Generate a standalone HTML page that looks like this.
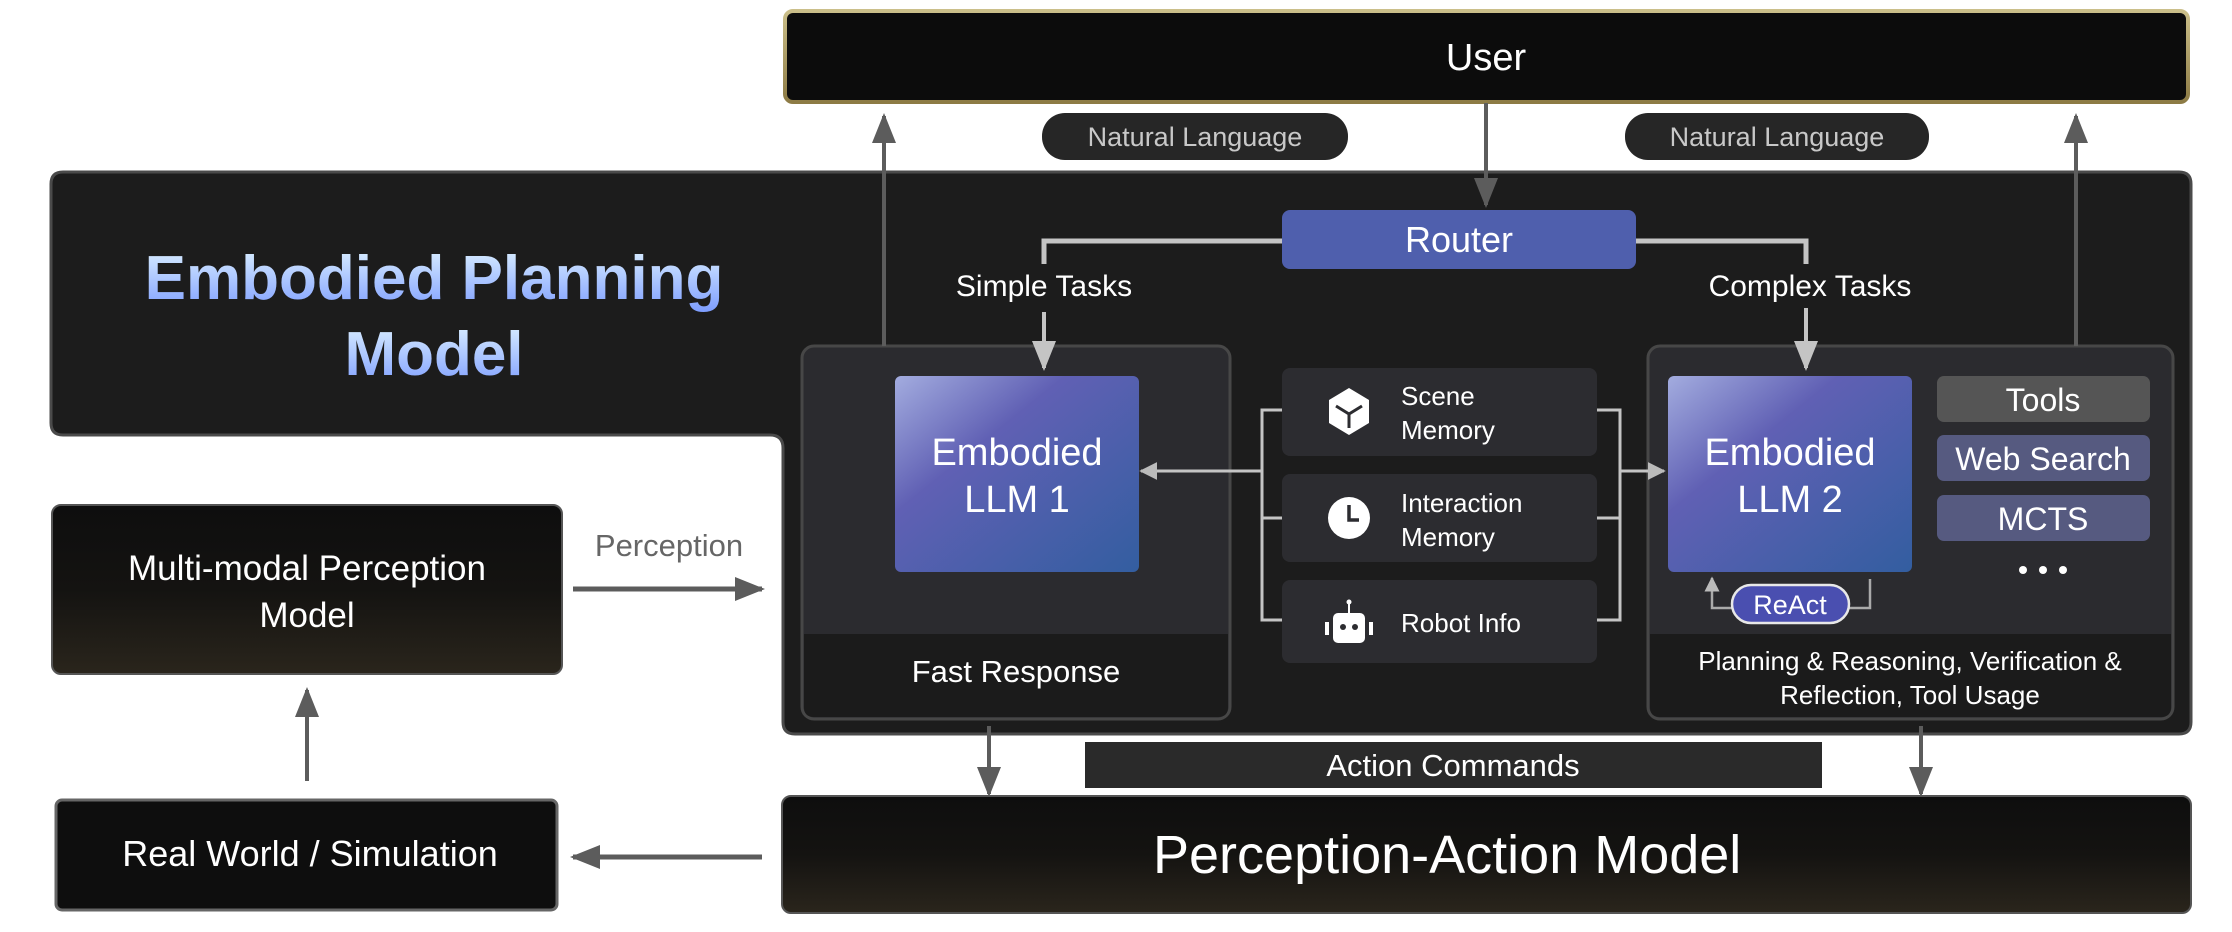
<!DOCTYPE html>
<html><head><meta charset="utf-8"><style>
html,body{margin:0;padding:0;background:#fff;}
svg{display:block;}
text{font-family:"Liberation Sans",sans-serif;}
</style></head><body>
<svg width="2232" height="932" viewBox="0 0 2232 932" xmlns="http://www.w3.org/2000/svg">
<defs>
<linearGradient id="gold" x1="0" y1="0" x2="0" y2="1"><stop offset="0" stop-color="#cbbf8a"/><stop offset="1" stop-color="#8d7b45"/></linearGradient>
<linearGradient id="dark" x1="0" y1="0" x2="0" y2="1"><stop offset="0" stop-color="#0e0e0e"/><stop offset="0.5" stop-color="#141311"/><stop offset="1" stop-color="#2a251c"/></linearGradient>
<linearGradient id="llm" x1="0" y1="0" x2="1" y2="1"><stop offset="0" stop-color="#a3acdf"/><stop offset="0.35" stop-color="#6060b4"/><stop offset="1" stop-color="#335ea0"/></linearGradient>
<linearGradient id="title" x1="0" y1="0" x2="0" y2="1"><stop offset="0" stop-color="#dff3ff"/><stop offset="1" stop-color="#7c9cff"/></linearGradient>
<marker id="ag" viewBox="0 0 10 10" refX="9" refY="5" markerWidth="7.5" markerHeight="7.5" orient="auto" markerUnits="strokeWidth"><path d="M0,1L10,5L0,9z" fill="#5c5c5c"/></marker>
<marker id="ag2" viewBox="0 0 10 10" refX="9" refY="5" markerWidth="6" markerHeight="6" orient="auto"><path d="M0,1L10,5L0,9z" fill="#5c5c5c"/></marker>
<marker id="al" viewBox="0 0 10 10" refX="9" refY="5" markerWidth="7.5" markerHeight="7.5" orient="auto"><path d="M0,1L10,5L0,9z" fill="#c4c4c4"/></marker>
<marker id="as" viewBox="0 0 10 10" refX="9" refY="5" markerWidth="6" markerHeight="6" orient="auto"><path d="M0,0L10,5L0,10z" fill="#bbb"/></marker>
</defs>

<!-- User -->
<rect x="785" y="11" width="1403" height="91" rx="8" fill="#0c0c0c" stroke="url(#gold)" stroke-width="4"/>
<text x="1486" y="70" font-size="38" fill="#fff" text-anchor="middle">User</text>

<!-- Natural language pills -->
<rect x="1042" y="113" width="306" height="47" rx="23" fill="#262626"/>
<text x="1195" y="146" font-size="27" fill="#c8c8c8" text-anchor="middle">Natural Language</text>
<rect x="1625" y="113" width="304" height="47" rx="23" fill="#262626"/>
<text x="1777" y="146" font-size="27" fill="#c8c8c8" text-anchor="middle">Natural Language</text>

<!-- Planning container -->
<path d="M63,172 H2179 Q2191,172 2191,184 V722 Q2191,734 2179,734 H795 Q783,734 783,722 V448 Q783,435 770,435 H63 Q51,435 51,423 V184 Q51,172 63,172 Z" fill="#1c1c1c" stroke="#4a4a4a" stroke-width="3"/>
<text x="434" y="299" font-size="62" font-weight="bold" fill="url(#title)" text-anchor="middle">Embodied Planning</text>
<text x="434" y="375" font-size="62" font-weight="bold" fill="url(#title)" text-anchor="middle">Model</text>

<!-- Router -->
<path d="M1044,264 V241 H1806 V264" fill="none" stroke="#c4c4c4" stroke-width="5"/>
<rect x="1282" y="210" width="354" height="59" rx="8" fill="#4f5fad"/>
<text x="1459" y="252" font-size="36" fill="#fff" text-anchor="middle">Router</text>
<text x="1044" y="296" font-size="30" fill="#fff" text-anchor="middle">Simple Tasks</text>
<text x="1810" y="296" font-size="30" fill="#fff" text-anchor="middle">Complex Tasks</text>

<!-- Fast response box -->
<rect x="802" y="346" width="428" height="373" rx="12" fill="#2b2b2f" stroke="#474747" stroke-width="3"/>
<path d="M804,634 H1228 V707 Q1228,717 1218,717 H814 Q804,717 804,707 Z" fill="#1b1b1b"/>
<text x="1016" y="682" font-size="31" fill="#fff" text-anchor="middle">Fast Response</text>
<rect x="895" y="376" width="244" height="196" rx="6" fill="url(#llm)"/>
<text x="1017" y="465" font-size="38" fill="#fff" text-anchor="middle">Embodied</text>
<text x="1017" y="512" font-size="38" fill="#fff" text-anchor="middle">LLM 1</text>

<!-- Complex box -->
<rect x="1648" y="346" width="525" height="373" rx="12" fill="#2b2b2f" stroke="#474747" stroke-width="3"/>
<path d="M1650,634 H2171 V707 Q2171,717 2161,717 H1660 Q1650,717 1650,707 Z" fill="#1b1b1b"/>
<text x="1910" y="670" font-size="26" fill="#fff" text-anchor="middle">Planning &amp; Reasoning, Verification &amp;</text>
<text x="1910" y="704" font-size="26" fill="#fff" text-anchor="middle">Reflection, Tool Usage</text>
<rect x="1668" y="376" width="244" height="196" rx="6" fill="url(#llm)"/>
<text x="1790" y="465" font-size="38" fill="#fff" text-anchor="middle">Embodied</text>
<text x="1790" y="512" font-size="38" fill="#fff" text-anchor="middle">LLM 2</text>
<rect x="1937" y="376" width="213" height="46" rx="7" fill="#555"/>
<text x="2043" y="411" font-size="32" fill="#fff" text-anchor="middle">Tools</text>
<rect x="1937" y="435" width="213" height="46" rx="7" fill="#565a80"/>
<text x="2043" y="470" font-size="32" fill="#fff" text-anchor="middle">Web Search</text>
<rect x="1937" y="495" width="213" height="46" rx="7" fill="#565a80"/>
<text x="2043" y="530" font-size="32" fill="#fff" text-anchor="middle">MCTS</text>
<circle cx="2023" cy="570" r="4" fill="#fff"/><circle cx="2043" cy="570" r="4" fill="#fff"/><circle cx="2063" cy="570" r="4" fill="#fff"/>
<path d="M1732,608 H1712 V578" fill="none" stroke="#aaa" stroke-width="2.5" marker-end="url(#as)"/>
<path d="M1849,608 H1870 V579" fill="none" stroke="#aaa" stroke-width="2.5"/>
<rect x="1732" y="585" width="117" height="38" rx="19" fill="#4a4fb0" stroke="#e8e8e8" stroke-width="2.5"/>
<text x="1790" y="614" font-size="27" fill="#fff" text-anchor="middle">ReAct</text>

<!-- arrows (drawn above boxes) -->
<line x1="884" y1="346" x2="884" y2="116" stroke="#5c5c5c" stroke-width="4" marker-end="url(#ag)"/>
<line x1="2076" y1="346" x2="2076" y2="116" stroke="#5c5c5c" stroke-width="4" marker-end="url(#ag)"/>
<line x1="1486" y1="103" x2="1486" y2="205" stroke="#5c5c5c" stroke-width="4" marker-end="url(#ag)"/>
<line x1="1044" y1="312" x2="1044" y2="368" stroke="#c4c4c4" stroke-width="4" marker-end="url(#al)"/>
<line x1="1806" y1="308" x2="1806" y2="368" stroke="#c4c4c4" stroke-width="4" marker-end="url(#al)"/>

<!-- Memory -->
<path d="M1282,410 H1262 V620 H1282 M1262,518 H1282" fill="none" stroke="#c4c4c4" stroke-width="3"/>
<path d="M1597,410 H1620 V620 H1597 M1620,518 H1597" fill="none" stroke="#c4c4c4" stroke-width="3"/>
<line x1="1262" y1="471" x2="1141" y2="471" stroke="#c4c4c4" stroke-width="3" marker-end="url(#as)"/>
<line x1="1620" y1="471" x2="1664" y2="471" stroke="#c4c4c4" stroke-width="3" marker-end="url(#as)"/>
<rect x="1282" y="368" width="315" height="88" rx="8" fill="#2c2c30"/>
<rect x="1282" y="474" width="315" height="88" rx="8" fill="#2c2c30"/>
<rect x="1282" y="580" width="315" height="83" rx="8" fill="#2c2c30"/>
<path d="M1349,388 L1369,400 V423 L1349,435 L1329,423 V400 Z" fill="#fff"/>
<path d="M1336,406 L1349,414 L1362,406 M1349,414 V428" fill="none" stroke="#2c2c30" stroke-width="3"/>
<text x="1401" y="405" font-size="26" fill="#fff">Scene</text>
<text x="1401" y="439" font-size="26" fill="#fff">Memory</text>
<circle cx="1349" cy="518" r="21" fill="#fff"/>
<path d="M1349,505 V520 H1359" fill="none" stroke="#2c2c30" stroke-width="3.5"/>
<text x="1401" y="512" font-size="26" fill="#fff">Interaction</text>
<text x="1401" y="546" font-size="26" fill="#fff">Memory</text>
<line x1="1349" y1="603" x2="1349" y2="613" stroke="#fff" stroke-width="2"/>
<circle cx="1349" cy="602" r="2.5" fill="#fff"/>
<rect x="1333" y="613" width="32" height="30" rx="5" fill="#fff"/>
<rect x="1325" y="622" width="4" height="13" fill="#fff"/><rect x="1369" y="622" width="4" height="13" fill="#fff"/>
<circle cx="1343" cy="627" r="3" fill="#2c2c30"/><circle cx="1355" cy="627" r="3" fill="#2c2c30"/>
<text x="1401" y="632" font-size="26" fill="#fff">Robot Info</text>

<!-- Down arrows -->
<line x1="989" y1="726" x2="989" y2="794" stroke="#5c5c5c" stroke-width="4" marker-end="url(#ag)"/>
<line x1="1921" y1="726" x2="1921" y2="794" stroke="#5c5c5c" stroke-width="4" marker-end="url(#ag)"/>
<rect x="1085" y="742" width="737" height="46" fill="#2a2a2a"/>
<text x="1453" y="776" font-size="31" fill="#fff" text-anchor="middle">Action Commands</text>

<!-- Perception-Action -->
<rect x="782" y="796" width="1409" height="117" rx="9" fill="url(#dark)" stroke="#555" stroke-width="2"/>
<text x="1153" y="873" font-size="54" fill="#fff">Perception-Action Model</text>

<!-- Multi-modal -->
<rect x="52" y="505" width="510" height="169" rx="9" fill="url(#dark)" stroke="#555" stroke-width="2"/>
<text x="307" y="580" font-size="35" fill="#fff" text-anchor="middle">Multi-modal Perception</text>
<text x="307" y="627" font-size="35" fill="#fff" text-anchor="middle">Model</text>
<text x="669" y="556" font-size="31" fill="#666" text-anchor="middle">Perception</text>
<line x1="573" y1="589" x2="762" y2="589" stroke="#5c5c5c" stroke-width="5" marker-end="url(#ag2)"/>
<line x1="307" y1="781" x2="307" y2="690" stroke="#5c5c5c" stroke-width="4" marker-end="url(#ag)"/>

<!-- Real world -->
<rect x="56" y="800" width="501" height="110" rx="6" fill="#0e0e0e" stroke="#666" stroke-width="3"/>
<text x="310" y="866" font-size="36" fill="#fff" text-anchor="middle">Real World / Simulation</text>
<line x1="762" y1="857" x2="573" y2="857" stroke="#5c5c5c" stroke-width="5" marker-end="url(#ag2)"/>
</svg>
</body></html>
